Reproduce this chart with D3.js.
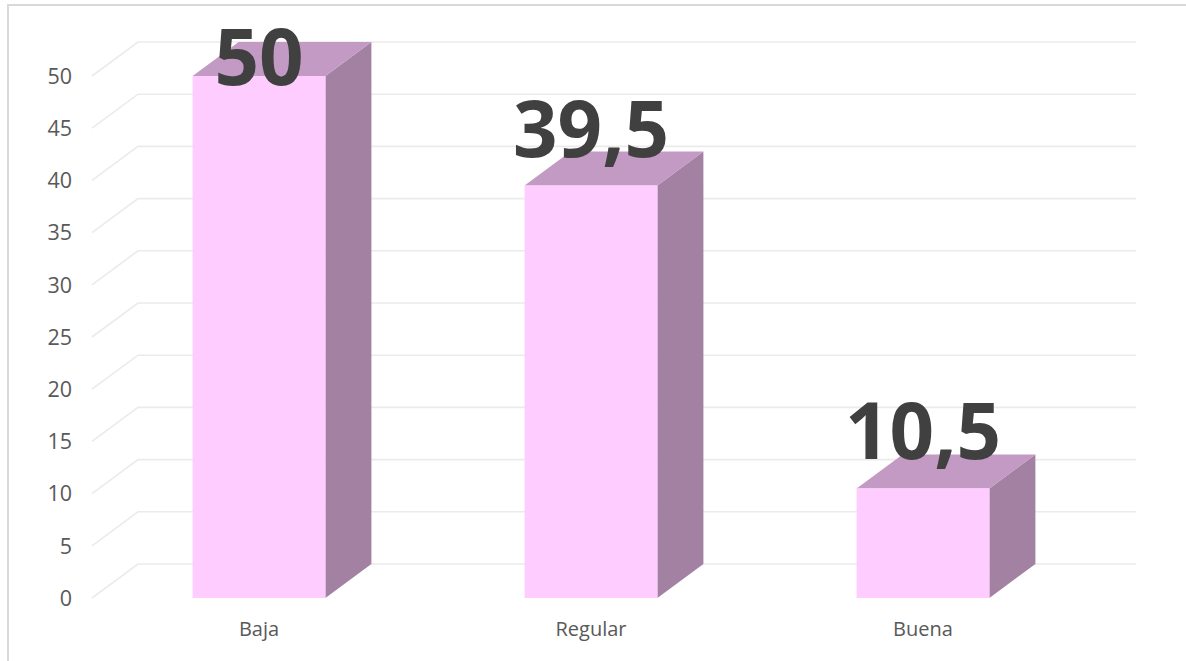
<!DOCTYPE html>
<html>
<head>
<meta charset="utf-8">
<script src="https://cdn.jsdelivr.net/npm/d3@7"></script>
<style>
  html, body { margin: 0; padding: 0; background: #ffffff; }
  svg { display: block; }
</style>
</head>
<body>
<svg id="chart" width="1186" height="661"></svg>
<script>
const categories = ["Baja", "Regular", "Buena"];
const values = [50, 39.5, 10.5];
const valueLabels = ["50", "39,5", "10,5"];
const yTicks = [0, 5, 10, 15, 20, 25, 30, 35, 40, 45, 50];

const svg = d3.select("#chart");
const W = 1186, H = 661;

// chart frame (only top and left edges visible)
svg.append("path")
  .attr("d", `M8,${H + 5} L8,5 L${W + 5},5`)
  .attr("fill", "none")
  .attr("stroke", "#d9d9d9")
  .attr("stroke-width", 2);

const depthX = 46, depthY = -34;

const y = d3.scaleLinear().domain([0, 50]).range([598, 76]);
const x = d3.scaleBand().domain(categories).range([93, 1089]).paddingInner(0).paddingOuter(0);
const barW = x.bandwidth() * 0.4;

const wallLeft = 92, wallRight = 1136;

// gridlines (3D: side diagonal + back wall)
const grid = svg.append("g");
yTicks.forEach(t => {
  grid.append("path")
    .attr("d", `M${wallLeft},${y(t)} L${wallLeft + depthX},${y(t) + depthY} L${wallRight},${y(t) + depthY}`)
    .attr("fill", "none")
    .attr("stroke", "#ebebeb")
    .attr("stroke-width", 1.6);
});

// y-axis tick labels
svg.append("g").selectAll("text")
  .data(yTicks)
  .join("text")
  .attr("x", 72)
  .attr("y", d => y(d))
  .attr("dy", "0.36em")
  .attr("text-anchor", "end")
  .attr("font-family", "'Open Sans', sans-serif")
  .attr("font-size", 21.5)
  .attr("fill", "#595959")
  .text(d => d);

// bars
const bars = svg.append("g").selectAll("g")
  .data(categories.map((c, i) => ({ c, v: values[i], lbl: valueLabels[i] })))
  .join("g");

bars.each(function(d) {
  const g = d3.select(this);
  const x0 = x(d.c) + (x.bandwidth() - barW) / 2;
  const x1 = x0 + barW;
  const yt = y(d.v), yb = y(0);
  // side face
  g.append("path")
    .attr("d", `M${x1},${yt} L${x1 + depthX},${yt + depthY} L${x1 + depthX},${yb + depthY} L${x1},${yb} Z`)
    .attr("fill", "#a381a3");
  // top face
  g.append("path")
    .attr("d", `M${x0},${yt} L${x0 + depthX},${yt + depthY} L${x1 + depthX},${yt + depthY} L${x1},${yt} Z`)
    .attr("fill", "#c39ac3");
  // front face
  g.append("rect")
    .attr("x", x0).attr("y", yt)
    .attr("width", barW).attr("height", yb - yt)
    .attr("fill", "#ffccff");
});

// data labels
bars.append("text")
  .attr("x", d => x(d.c) + x.bandwidth() / 2)
  .attr("y", d => Math.max(y(d.v) - 29, 85))
  .attr("text-anchor", "middle")
  .attr("font-family", "'Open Sans', sans-serif")
  .attr("font-weight", "bold")
  .attr("font-size", 78)
  .attr("fill", "#404040")
  .text(d => d.lbl);

// category labels
svg.append("g").selectAll("text")
  .data(categories)
  .join("text")
  .attr("x", d => x(d) + x.bandwidth() / 2)
  .attr("y", 636)
  .attr("text-anchor", "middle")
  .attr("font-family", "'Open Sans', sans-serif")
  .attr("font-size", 20)
  .attr("fill", "#595959")
  .text(d => d);
</script>
</body>
</html>
